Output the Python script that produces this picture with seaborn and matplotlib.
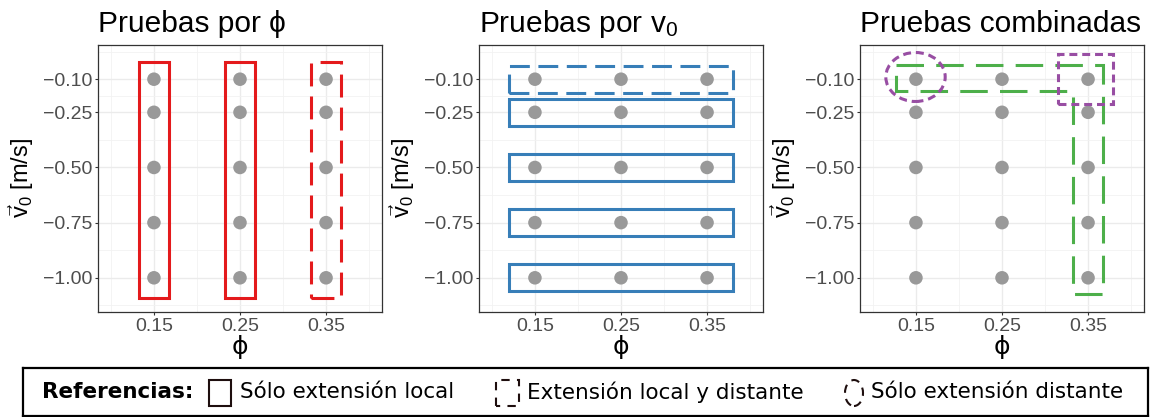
import numpy as np
import pandas as pd
import seaborn as sns
import matplotlib
matplotlib.use("Agg")
import matplotlib.pyplot as plt
from matplotlib.patches import Rectangle, Polygon, Ellipse

# ---- data -------------------------------------------------------------
phi_vals = [0.15, 0.25, 0.35]
v0_vals = [-0.10, -0.25, -0.50, -0.75, -1.00]
x_ticklabels = ["0.15", "0.25", "0.35"]
y_ticklabels = ["\u22120.10", "\u22120.25", "\u22120.50", "\u22120.75", "\u22121.00"]
panel_titles = ["Pruebas por \u03d5", r"Pruebas por $\mathregular{v_0}$", "Pruebas combinadas"]
legend_title = "Referencias:"
legend_labels = ["Sólo extensión local", "Extensión local y distante", "Sólo extensión distante"]

grid = pd.DataFrame([(p, v) for p in phi_vals for v in v0_vals], columns=["phi", "v0"])

# ---- style ------------------------------------------------------------
sns.set_theme(style="white")
plt.rcParams["font.family"] = ["Liberation Sans", "DejaVu Sans"]
plt.rcParams["mathtext.fontset"] = "custom"
plt.rcParams["mathtext.rm"] = "Liberation Sans"
plt.rcParams["mathtext.it"] = "Liberation Sans"
plt.rcParams["text.color"] = "black"
plt.rcParams["axes.labelcolor"] = "black"
plt.rcParams["axes.titlecolor"] = "black"

RED = "#E41A1C"
BLUE = "#377EB8"
GREEN = "#4DAF4A"
PURPLE = "#984EA3"
POINT = "#999999"

W, H = 1153, 417
fig = plt.figure(figsize=(W / 100, H / 100), dpi=100)

lefts = [98, 479, 860]
ax_w = 284
top, bottom = 45, 312


def px_axes(x0, y0, w, h):
    return fig.add_axes([x0 / W, 1 - (y0 + h) / H, w / W, h / H])


axes = [px_axes(l, top, ax_w, bottom - top) for l in lefts]

for ax, title in zip(axes, panel_titles):
    sns.scatterplot(data=grid, x="phi", y="v0", ax=ax, color=POINT, s=95,
                    edgecolor="none", legend=False, zorder=3)
    ax.set_xlim(0.085, 0.415)
    ax.set_ylim(-1.155, 0.055)
    ax.set_xticks(phi_vals)
    ax.set_xticklabels(x_ticklabels)
    ax.set_yticks(v0_vals)
    ax.set_yticklabels(y_ticklabels)
    ax.set_xticks([0.10, 0.20, 0.30, 0.40], minor=True)
    ax.set_yticks([0.025, -0.175, -0.375, -0.625, -0.875, -1.125], minor=True)
    ax.grid(True, which="major", color="#EBEBEB", lw=1.0, zorder=0)
    ax.grid(True, which="minor", color="#F2F2F2", lw=0.6, zorder=0)
    ax.set_axisbelow(True)
    ax.tick_params(axis="both", which="major", length=2.5, width=0.8, color="#333333",
                   labelcolor="#4D4D4D", labelsize=14, pad=1.5, left=True, bottom=True)
    ax.tick_params(axis="both", which="minor", length=0)
    for s in ax.spines.values():
        s.set_color("#333333")
        s.set_linewidth(0.9)
    ax.set_xlabel("\u03d5", fontsize=18, labelpad=0, family=["DejaVu Sans"], color="black")
    ax.set_ylabel(r"$\vec{\mathregular{v}}_\mathregular{0}$ [m/s]", fontsize=17,
                  labelpad=5, color="black")
    ax.set_title(title, loc="left", fontsize=21.5, pad=9, color="black")

# ---- panel 1: one box per phi ----------------------------------------
ax = axes[0]
half_w = 0.017
for i, p in enumerate(phi_vals):
    ls = "-" if i < 2 else (0, (7.5, 3.3))
    ax.add_patch(Rectangle((p - half_w, -1.09), 2 * half_w, 1.07, fill=False,
                           ec=RED, lw=2.2, ls=ls, zorder=4))

# ---- panel 2: one box per v0 -----------------------------------------
ax = axes[1]
half_h = 0.061
for j, v in enumerate(v0_vals):
    ls = (0, (6.5, 2.8)) if j == 0 else "-"
    ax.add_patch(Rectangle((0.12, v - half_h), 0.26, 2 * half_h, fill=False,
                           ec=BLUE, lw=2.2, ls=ls, zorder=4))

# ---- panel 3: combined runs ------------------------------------------
ax = axes[2]
ell_shape = [(0.127, -0.035), (0.367, -0.035), (0.367, -1.073), (0.333, -1.073),
             (0.333, -0.154), (0.127, -0.154)]
ax.add_patch(Polygon(ell_shape, closed=True, fill=False, ec=GREEN, lw=2.2,
                     ls=(0, (9, 4)), zorder=4))
ax.add_patch(Rectangle((0.3145, -0.214), 0.0645, 0.229, fill=False, ec=PURPLE,
                       lw=2.2, ls=(0, (2.6, 1.6)), zorder=5))
ax.add_patch(Ellipse((0.1495, -0.090), 0.069, 0.222, fill=False, ec=PURPLE,
                     lw=2.2, ls=(0, (2.6, 1.6)), zorder=5))

# ---- legend strip -----------------------------------------------------
lx0, ly0, lx1, ly1 = 23, 368, 1148, 416
lax = px_axes(lx0, ly0, lx1 - lx0, ly1 - ly0)
lax.set_xlim(0, lx1 - lx0)
lax.set_ylim(0, ly1 - ly0)
lax.set_xticks([])
lax.set_yticks([])
lax.set_facecolor("white")
for s in lax.spines.values():
    s.set_color("black")
    s.set_linewidth(1.6)

ICON = "#1E0E0E"
cy = 24
lax.text(19, cy, legend_title, fontsize=15.5, fontweight="bold", color="black",
         va="center", ha="left", family=["DejaVu Sans"])
lax.add_patch(Rectangle((186, 10), 22, 26, fill=False, ec=ICON, lw=1.5))
lax.text(217, cy, legend_labels[0], fontsize=15.5, va="center", ha="left",
         color="black", family=["DejaVu Sans"])
lax.add_patch(Rectangle((473, 10), 23, 26, fill=False, ec=ICON, lw=1.5,
                        ls=(2, (4, 3.5))))
lax.text(504, cy, legend_labels[1], fontsize=15.5, va="center", ha="left",
         color="black", family=["DejaVu Sans"])
lax.add_patch(Ellipse((831, 23), 18, 26, fill=False, ec=ICON, lw=1.5,
                      ls=(0, (4, 3))))
lax.text(848, cy, legend_labels[2], fontsize=15.5, va="center", ha="left",
         color="black", family=["DejaVu Sans"])

fig.savefig("out.png", dpi=100, facecolor="white")
